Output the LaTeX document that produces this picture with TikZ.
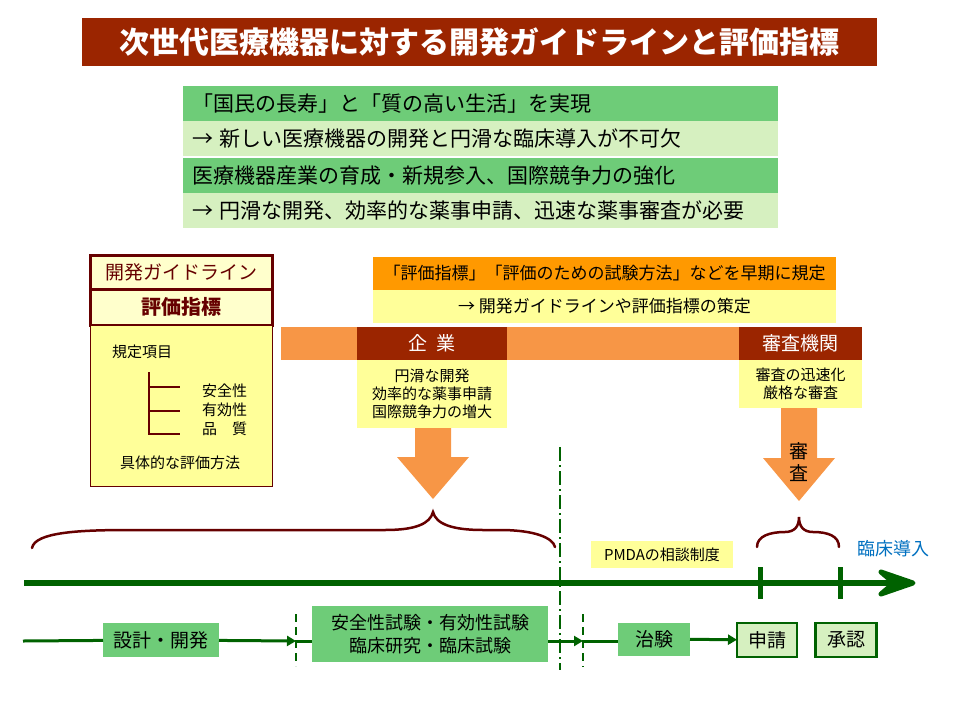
\documentclass[tikz,border=0pt]{standalone}
\usepackage{fontspec}
\setmainfont{Noto Sans CJK JP}
\usetikzlibrary{positioning,arrows.meta}

\definecolor{titlered}{RGB}{155,37,0}
\definecolor{rowgreen}{RGB}{110,204,120}
\definecolor{rowlight}{RGB}{214,240,192}
\definecolor{paleyellow}{RGB}{255,255,204}
\definecolor{noteyellow}{RGB}{255,255,153}
\definecolor{headorange}{RGB}{255,153,0}
\definecolor{bandorange}{RGB}{247,150,70}
\definecolor{maroon}{RGB}{102,0,0}
\definecolor{darkgreen}{RGB}{0,98,0}
\definecolor{introblue}{RGB}{0,112,192}

\tikzset{
  box/.style={rectangle, inner sep=0pt, outer sep=0pt},
  titlebar/.style={box, fill=titlered, text=white, minimum width=795pt, minimum height=48pt,
    font=\bfseries\fontsize{30}{30}\selectfont},
  row/.style={box, minimum height=35pt, text width=577pt, inner xsep=9pt, align=left,
    font=\fontsize{21}{24}\selectfont},
  rowdark/.style={row, fill=rowgreen},
  rowlight/.style={row, fill=rowlight},
  guidehead/.style={box, draw=maroon, line width=3pt, fill=paleyellow, text=maroon,
    minimum width=182pt, minimum height=34pt, font=\fontsize{19}{19}\selectfont},
  guidebody/.style={box, draw=maroon, line width=1pt, fill=noteyellow,
    minimum width=182pt, minimum height=161pt},
  small/.style={inner sep=0pt, font=\fontsize{15}{18}\selectfont, align=center},
  orangehead/.style={box, fill=headorange, minimum width=463pt, minimum height=33pt,
    font=\fontsize{17}{17}\selectfont},
  policynote/.style={box, fill=noteyellow, minimum width=463pt, minimum height=33pt,
    font=\fontsize{17}{17}\selectfont},
  actor/.style={box, fill=titlered, text=white, minimum height=33pt,
    font=\fontsize{19}{19}\selectfont},
  note/.style={box, fill=noteyellow, small},
  blockarrow/.style={fill=bandorange},
  brace/.style={draw=maroon, line width=2.5pt, line cap=round},
  timeline/.style={darkgreen, line width=6pt},
  gate/.style={darkgreen, line width=2pt, dash pattern=on 8pt off 5pt},
  milestone/.style={darkgreen, line width=2pt, dash pattern=on 14pt off 4pt on 2pt off 4pt},
  flow/.style={darkgreen, line width=3pt},
  flowtip/.style={flow, -{Triangle[length=9pt, width=10pt]}},
  stage/.style={box, fill=rowgreen, font=\fontsize{19}{22}\selectfont, align=center},
  approval/.style={box, draw=darkgreen, line width=2.5pt, fill=rowlight,
    minimum width=60pt, minimum height=34pt, font=\fontsize{19}{19}\selectfont}
}

\begin{document}
\begin{tikzpicture}[x=1pt,y=-1pt]
\useasboundingbox (0,0) rectangle (956,718);

% title
\node[titlebar] (title) at (479.5,42) {次世代医療機器に対する開発ガイドラインと評価指標};

% aims
\node[rowdark] (goal1) at (480.5,103.5) {「国民の長寿」と「質の高い生活」を実現};
\node[rowlight, below=0pt of goal1] (need1) {→~新しい医療機器の開発と円滑な臨床導入が不可欠};
\node[rowdark, below=2pt of need1] (goal2) {医療機器産業の育成・新規参入、国際競争力の強化};
\node[rowlight, below=0pt of goal2] (need2) {→~円滑な開発、効率的な薬事申請、迅速な薬事審査が必要};

% guideline box
\node[guidehead] (guide) at (181,272) {開発ガイドライン};
\node[guidehead, minimum height=36pt, font=\bfseries\fontsize{20}{20}\selectfont,
  below=0pt of guide] (index) {評価指標};
\node[guidebody, below=0pt of index] (body) {};
\node[small, anchor=west] (items) at (112,352) {規定項目};
\draw[maroon, line width=2pt] (149,372) -- (149,434) -- (180,434);
\draw[maroon, line width=2pt] (149,387) -- (180,387);
\draw[maroon, line width=2pt] (149,411) -- (180,411);
\node[small, anchor=west] (safety) at (202,391) {安全性};
\node[small, anchor=west] (efficacy) at (202,410) {有効性};
\node[small, anchor=west] (quality) at (202,429) {品　質};
\node[small] (method) at (180,463) {具体的な評価方法};

% policy
\node[orangehead] (policy) at (604.5,273.5) {「評価指標」「評価のための試験方法」などを早期に規定};
\node[policynote, below=0pt of policy] (policynote) {→~開発ガイドラインや評価指標の策定};

% actors
\node[box, fill=bandorange, minimum width=581pt, minimum height=33pt] (band) at (571.5,343.5) {};
\node[actor, minimum width=150pt] (kigyo) at (432,343.5) {企\ \ 業};
\node[actor, minimum width=123pt] (shinsa) at (800.5,343.5) {審査機関};
\node[note, minimum width=150pt, minimum height=68pt, below=0pt of kigyo] (kigyonote)
  {円滑な開発\\効率的な薬事申請\\国際競争力の増大};
\node[note, minimum width=123pt, minimum height=48pt, below=0pt of shinsa] (shinsanote)
  {審査の迅速化\\厳格な審査};

% block arrows
\fill[blockarrow] (415,428) -- (451,428) -- (451,457) -- (469,457) -- (433,499)
  -- (397,457) -- (415,457) -- cycle;
\fill[blockarrow] (781,408) -- (817,408) -- (817,458) -- (835,458) -- (799,501)
  -- (763,458) -- (781,458) -- cycle;
\node[inner sep=0pt, align=center, font=\fontsize{19}{22}\selectfont] (examlabel) at (799,462) {審\\査};

% braces
\draw[brace] (32,548) .. controls (35,532) and (80,530) .. (130,530) -- (385,530)
  .. controls (415,530) and (430,524) .. (433,512)
  .. controls (436,524) and (452,530) .. (483,530) -- (500,530)
  .. controls (535,530) and (553,538) .. (555,547);
\draw[brace] (757,547) .. controls (757,536) and (770,532) .. (785,532)
  .. controls (795,532) and (799,526) .. (799,517)
  .. controls (799,526) and (803,532) .. (813,532)
  .. controls (828,532) and (839,536) .. (839,547);

% timeline
\draw[milestone] (560,447) -- (560,670);
\coordinate (tlstart) at (24,583);
\coordinate (tlend) at (913,583);
\draw[timeline] (tlstart) -- (895,583);
\filldraw[darkgreen, line width=5pt, line join=round] (881,572) -- (tlend) -- (881,594)
  -- (894,583) -- cycle;
\draw[darkgreen, line width=5pt] (760,567) -- (760,599);
\draw[darkgreen, line width=5pt] (840,567) -- (840,599);
\node[note, minimum width=142pt, minimum height=27pt] (pmda) at (662,554.5) {PMDAの相談制度};
\node[inner sep=0pt, text=introblue, font=\fontsize{18}{18}\selectfont] (intro) at (893,549) {臨床導入};

% process flow
\draw[gate] (296,614) -- (296,666);
\draw[gate] (583,614) -- (583,667);
\coordinate (flowstart) at (23,641);
\coordinate (gate1) at (296,641);
\coordinate (gate2) at (583,641);
\node[stage, minimum width=116pt, minimum height=34pt] (design) at (161,640) {設計・開発};
\node[stage, minimum width=236pt, minimum height=56pt, font=\fontsize{18}{23}\selectfont] (trials) at (430,634)
  {安全性試験・有効性試験\\臨床研究・臨床試験};
\node[stage, minimum width=72pt, minimum height=33pt] (chiken) at (654,639) {治験};
\node[approval] (shinsei) at (767,640) {申請};
\node[approval, minimum width=61pt] (shonin) at (846,640) {承認};
\draw[flow] (flowstart) -- (design);
\draw[flowtip] (design) -- (gate1);
\draw[flow] (gate1) -- (gate1 -| trials.west);
\draw[flowtip] (gate2 -| trials.east) -- (gate2);
\draw[flow] (gate2) -- (gate2 -| chiken.west);
\draw[flowtip] (chiken) -- (shinsei);
\end{tikzpicture}
\end{document}
